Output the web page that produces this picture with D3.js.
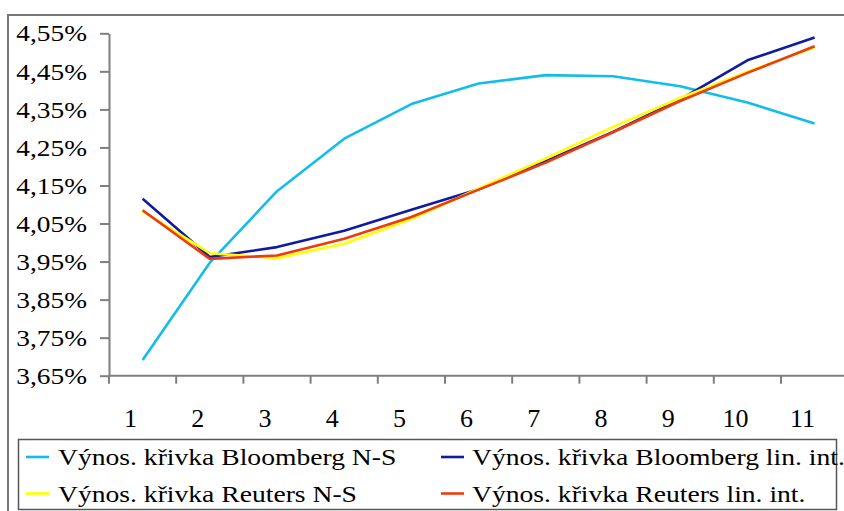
<!DOCTYPE html>
<html>
<head>
<meta charset="utf-8">
<script src="https://cdn.jsdelivr.net/npm/d3@7"></script>
<style>
  html, body { margin: 0; padding: 0; background: #fff; }
  svg { display: block; }
  text { font-family: "Liberation Serif", "Times New Roman", serif; fill: #000; }
</style>
</head>
<body>
<svg id="chart" width="844" height="511"></svg>
<script>
// Maturity buckets on the x axis
const categories = [1, 2, 3, 4, 5, 6, 7, 8, 9, 10, 11];

// Yield curve values (%)
const bloombergNS  = [3.691, 3.947, 4.135, 4.273, 4.364, 4.418, 4.440, 4.437, 4.411, 4.368, 4.313];
const bloombergLin = [4.115, 3.962, 3.988, 4.031, 4.086, 4.140, 4.214, 4.291, 4.376, 4.479, 4.539];
const reutersNS    = [4.082, 3.972, 3.959, 3.997, 4.062, 4.142, 4.221, 4.304, 4.380, 4.449, 4.513];
const reutersLin   = [4.085, 3.957, 3.966, 4.010, 4.067, 4.139, 4.210, 4.290, 4.372, 4.446, 4.516];

const seriesNames = [
  "Výnos. křivka Bloomberg N-S",
  "Výnos. křivka Bloomberg lin. int.",
  "Výnos. křivka Reuters N-S",
  "Výnos. křivka Reuters lin. int."
];
const seriesColors = ["#13BDEB", "#0F1C9E", "#FFFF00", "#EE3A0C"];

// Y axis tick labels
const yTicks = [3.65, 3.75, 3.85, 3.95, 4.05, 4.15, 4.25, 4.35, 4.45, 4.55];

const series = [bloombergNS, bloombergLin, reutersNS, reutersLin].map((vals, i) => ({
  name: seriesNames[i],
  color: seriesColors[i],
  values: vals.map((v, j) => ({ cat: categories[j], v }))
}));

const svg = d3.select("#chart");
const axisColor = "#7f7f7f";

// Outer chart frame (runs past the right and bottom edges)
svg.append("rect")
  .attr("x", 8).attr("y", 15)
  .attr("width", 900).attr("height", 600)
  .attr("fill", "#fff")
  .attr("stroke", "#777").attr("stroke-width", 2);

const plot = { left: 109, right: 848.2, top: 33.3, bottom: 375.7 };

const x = d3.scaleBand().domain(categories).range([plot.left, plot.right]).padding(0);
const y = d3.scaleLinear().domain([3.65, 4.55]).range([plot.bottom, plot.top]);

const locale = d3.formatLocale({ decimal: ",", thousands: " ", grouping: [3], currency: ["", ""] });
const fmt = v => locale.format(".2f")(v) + "%";

// Y axis
const yAxis = svg.append("g")
  .attr("transform", `translate(${plot.left},0)`)
  .call(d3.axisLeft(y).tickValues(yTicks).tickSize(9).tickPadding(13).tickFormat(fmt).tickSizeOuter(0));
yAxis.select(".domain").attr("stroke", axisColor).attr("stroke-width", 2);
yAxis.selectAll(".tick line").attr("stroke", axisColor).attr("stroke-width", 2);
yAxis.selectAll(".tick text")
  .attr("font-size", 24)
  .attr("font-family", "Liberation Serif")
  .attr("dy", "0.32em")
  .each(function () {
    const t = d3.select(this);
    const xx = +t.attr("x");
    t.attr("x", 0).attr("transform", `translate(${xx},0) scale(1.14,1)`);
  });

// X axis: line, boundary ticks, centred labels
const xAxis = svg.append("g").attr("transform", `translate(0,${plot.bottom})`);
xAxis.append("line")
  .attr("x1", plot.left).attr("x2", plot.right)
  .attr("stroke", axisColor).attr("stroke-width", 2);
const bounds = categories.map(c => x(c)).concat([x(categories[categories.length - 1]) + x.bandwidth()]);
xAxis.selectAll("line.tk").data(bounds).join("line")
  .attr("class", "tk")
  .attr("x1", d => d).attr("x2", d => d)
  .attr("y1", 0).attr("y2", 8)
  .attr("stroke", axisColor).attr("stroke-width", 2);
xAxis.selectAll("text").data(categories).join("text")
  .attr("x", d => x(d) + x.bandwidth() / 2 - 12)
  .attr("y", 51)
  .attr("text-anchor", "middle")
  .attr("font-size", 26)
  .text(d => d);

// Lines
const line = d3.line()
  .x(d => x(d.cat) + x.bandwidth() / 2)
  .y(d => y(d.v));
svg.append("g").selectAll("path").data(series).join("path")
  .attr("d", d => line(d.values))
  .attr("fill", "none")
  .attr("stroke", d => d.color)
  .attr("stroke-width", 2.6)
  .attr("stroke-linejoin", "round");

// Legend
const legend = svg.append("g");
legend.append("rect")
  .attr("x", 18.5).attr("y", 439.5)
  .attr("width", 818).attr("height", 70)
  .attr("fill", "#fff").attr("stroke", "#555").attr("stroke-width", 1.5);

const legendPos = [
  { sx: 26, tx: 58, ty: 465 },
  { sx: 441, tx: 472, ty: 465 },
  { sx: 26, tx: 58, ty: 501.5 },
  { sx: 441, tx: 472, ty: 501.5 }
];
const items = legend.selectAll("g.item").data(series).join("g").attr("class", "item");
items.append("line")
  .attr("x1", (d, i) => legendPos[i].sx)
  .attr("x2", (d, i) => legendPos[i].sx + 23)
  .attr("y1", (d, i) => legendPos[i].ty - 8)
  .attr("y2", (d, i) => legendPos[i].ty - 8)
  .attr("stroke", d => d.color).attr("stroke-width", 2.6);
items.append("text")
  .attr("transform", (d, i) => `translate(${legendPos[i].tx},${legendPos[i].ty}) scale(1.15,1)`)
  .attr("font-size", 24)
  .text(d => d.name);
</script>
</body>
</html>
